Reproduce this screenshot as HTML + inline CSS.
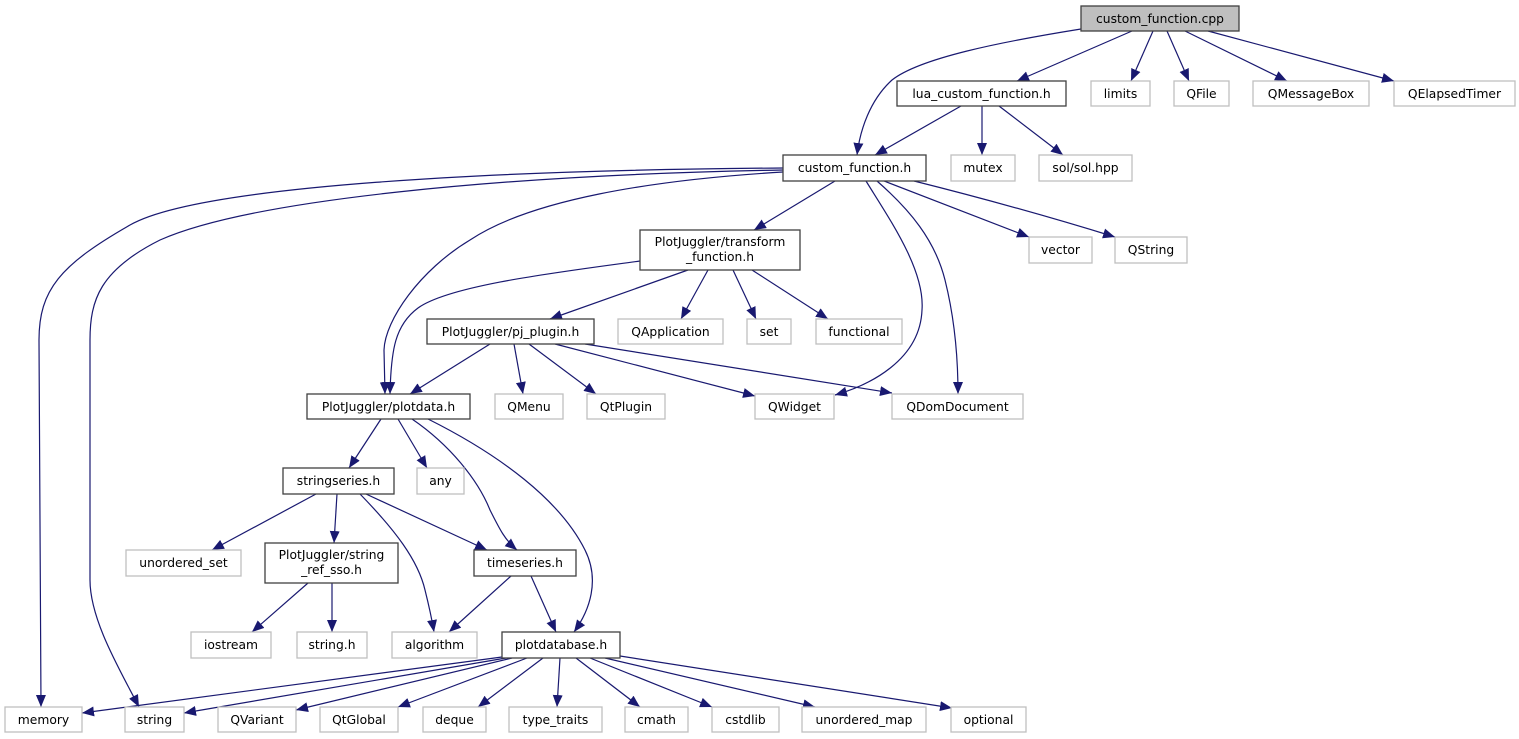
<!DOCTYPE html>
<html><head><meta charset="utf-8"><style>
html,body{margin:0;padding:0;background:#fff;}
svg{display:block;}
text{font-family:"DejaVu Sans","Liberation Sans",sans-serif;font-size:12.3px;fill:#000;text-anchor:middle;}
.b{fill:#fff;stroke:#404040;stroke-width:1.3;}
.g{fill:#fff;stroke:#bfbfbf;stroke-width:1.3;}
.e{fill:none;stroke:#191970;stroke-width:1.2;marker-end:url(#a);}
</style></head><body>
<svg width="1519" height="739" viewBox="0 0 1519 739" xmlns="http://www.w3.org/2000/svg">
<defs><marker id="a" markerUnits="userSpaceOnUse" markerWidth="13" markerHeight="11" refX="12" refY="5" orient="auto"><path d="M0,0 L12,5 L0,10 z" fill="#191970"/></marker></defs>
<g>
<path class="e" d="M1081,29 C1000,42 920,58 892,80 C870,100 860,130 857,155"/>
<path class="e" d="M1132,31 L1017,81"/>
<path class="e" d="M1153,31 L1131,81"/>
<path class="e" d="M1167,31 L1189,81"/>
<path class="e" d="M1185,31 L1287,81"/>
<path class="e" d="M1208,31 L1394,81"/>
<path class="e" d="M961,106 L875,155"/>
<path class="e" d="M982,106 L982,155"/>
<path class="e" d="M999,106 L1063,155"/>
<path class="e" d="M783,168 C500,170 200,185 130,225 C60,265 39,290 39,340 L41,707"/>
<path class="e" d="M783,170 C500,175 250,200 160,240 C100,270 90,300 90,340 L90,580 C90,620 120,670 139,707"/>
<path class="e" d="M783,172 C650,180 530,200 470,240 C420,270 385,320 384,350 L385,394"/>
<path class="e" d="M640,261 C560,272 450,285 418,308 C395,325 391,350 390,394"/>
<path class="e" d="M835,181 L754,230"/>
<path class="e" d="M866,181 C890,220 925,270 922,310 C920,360 870,385 835,395"/>
<path class="e" d="M877,181 C910,210 935,240 945,280 C955,320 958,360 958,394"/>
<path class="e" d="M884,181 L1029,237"/>
<path class="e" d="M914,181 C990,200 1060,220 1115,237"/>
<path class="e" d="M688,270 L550,319"/>
<path class="e" d="M708,270 L681,319"/>
<path class="e" d="M733,270 L756,319"/>
<path class="e" d="M752,270 L828,319"/>
<path class="e" d="M490,344 L410,394"/>
<path class="e" d="M514,344 L523,394"/>
<path class="e" d="M529,344 L596,394"/>
<path class="e" d="M555,344 L755,396"/>
<path class="e" d="M585,344 L892,393"/>
<path class="e" d="M381,419 L349,468"/>
<path class="e" d="M398,419 L427,468"/>
<path class="e" d="M412,419 C450,445 478,480 490,510 C500,530 505,540 517,550"/>
<path class="e" d="M428,419 C500,455 560,500 585,550 C600,580 590,610 574,632"/>
<path class="e" d="M316,494 L212,550"/>
<path class="e" d="M337,494 L334,543"/>
<path class="e" d="M360,494 C395,530 418,560 425,590 C430,610 432,620 434,632"/>
<path class="e" d="M366,494 L487,550"/>
<path class="e" d="M308,583 L252,632"/>
<path class="e" d="M332,583 L332,632"/>
<path class="e" d="M511,576 L449,632"/>
<path class="e" d="M531,576 L556,632"/>
<path class="e" d="M502,657 L82,713"/>
<path class="e" d="M506,658 L184,713"/>
<path class="e" d="M512,658 L296,710"/>
<path class="e" d="M527,658 L398,707"/>
<path class="e" d="M543,658 L478,707"/>
<path class="e" d="M560,658 L557,707"/>
<path class="e" d="M576,658 L640,707"/>
<path class="e" d="M590,658 L712,707"/>
<path class="e" d="M605,658 L815,707"/>
<path class="e" d="M620,656 L952,708"/>
</g>
<g>
<rect x="1081" y="6" width="158" height="25" fill="#bfbfbf" stroke="#404040" stroke-width="1.3"/><text x="1160" y="23">custom_function.cpp</text>
<rect class="b" x="897" y="81" width="169" height="25"/><text x="981.5" y="98">lua_custom_function.h</text>
<rect class="g" x="1091" y="81" width="59" height="25"/><text x="1120.5" y="98">limits</text>
<rect class="g" x="1174" y="81" width="55" height="25"/><text x="1201.5" y="98">QFile</text>
<rect class="g" x="1253" y="81" width="116" height="25"/><text x="1311" y="98">QMessageBox</text>
<rect class="g" x="1394" y="81" width="121" height="25"/><text x="1454.5" y="98">QElapsedTimer</text>
<rect class="b" x="783" y="155" width="143" height="26"/><text x="854.5" y="172">custom_function.h</text>
<rect class="g" x="951" y="155" width="64" height="26"/><text x="983" y="172">mutex</text>
<rect class="g" x="1039" y="155" width="93" height="26"/><text x="1085.5" y="172">sol/sol.hpp</text>
<rect class="g" x="1029" y="237" width="63" height="26"/><text x="1060.5" y="254">vector</text>
<rect class="g" x="1115" y="237" width="72" height="26"/><text x="1151" y="254">QString</text>
<rect class="b" x="640" y="230" width="160" height="40"/><text x="720" y="246">PlotJuggler/transform</text><text x="720" y="261">_function.h</text>
<rect class="b" x="427" y="319" width="167" height="25"/><text x="510.5" y="336">PlotJuggler/pj_plugin.h</text>
<rect class="g" x="618" y="319" width="105" height="25"/><text x="670.5" y="336">QApplication</text>
<rect class="g" x="747" y="319" width="44" height="25"/><text x="769" y="336">set</text>
<rect class="g" x="816" y="319" width="86" height="25"/><text x="859" y="336">functional</text>
<rect class="b" x="307" y="394" width="163" height="25"/><text x="388.5" y="411">PlotJuggler/plotdata.h</text>
<rect class="g" x="495" y="394" width="68" height="25"/><text x="529" y="411">QMenu</text>
<rect class="g" x="587" y="394" width="78" height="25"/><text x="626" y="411">QtPlugin</text>
<rect class="g" x="755" y="394" width="79" height="25"/><text x="794.5" y="411">QWidget</text>
<rect class="g" x="892" y="394" width="131" height="25"/><text x="957.5" y="411">QDomDocument</text>
<rect class="b" x="283" y="468" width="111" height="26"/><text x="338.5" y="485">stringseries.h</text>
<rect class="g" x="417" y="468" width="47" height="26"/><text x="440.5" y="485">any</text>
<rect class="g" x="126" y="550" width="115" height="26"/><text x="183.5" y="567">unordered_set</text>
<rect class="b" x="265" y="543" width="133" height="40"/><text x="331.5" y="559">PlotJuggler/string</text><text x="331.5" y="574">_ref_sso.h</text>
<rect class="b" x="474" y="550" width="102" height="26"/><text x="525" y="567">timeseries.h</text>
<rect class="g" x="191" y="632" width="80" height="26"/><text x="231" y="649">iostream</text>
<rect class="g" x="297" y="632" width="70" height="26"/><text x="332" y="649">string.h</text>
<rect class="g" x="392" y="632" width="85" height="26"/><text x="434.5" y="649">algorithm</text>
<rect class="b" x="502" y="632" width="118" height="26"/><text x="561" y="649">plotdatabase.h</text>
<rect class="g" x="5" y="707" width="77" height="25"/><text x="43.5" y="724">memory</text>
<rect class="g" x="125" y="707" width="59" height="25"/><text x="154.5" y="724">string</text>
<rect class="g" x="218" y="707" width="78" height="25"/><text x="257" y="724">QVariant</text>
<rect class="g" x="320" y="707" width="78" height="25"/><text x="359" y="724">QtGlobal</text>
<rect class="g" x="423" y="707" width="63" height="25"/><text x="454.5" y="724">deque</text>
<rect class="g" x="509" y="707" width="93" height="25"/><text x="555.5" y="724">type_traits</text>
<rect class="g" x="625" y="707" width="63" height="25"/><text x="656.5" y="724">cmath</text>
<rect class="g" x="712" y="707" width="67" height="25"/><text x="745.5" y="724">cstdlib</text>
<rect class="g" x="802" y="707" width="124" height="25"/><text x="864" y="724">unordered_map</text>
<rect class="g" x="951" y="707" width="75" height="25"/><text x="988.5" y="724">optional</text>
</g>
</svg>
</body></html>
